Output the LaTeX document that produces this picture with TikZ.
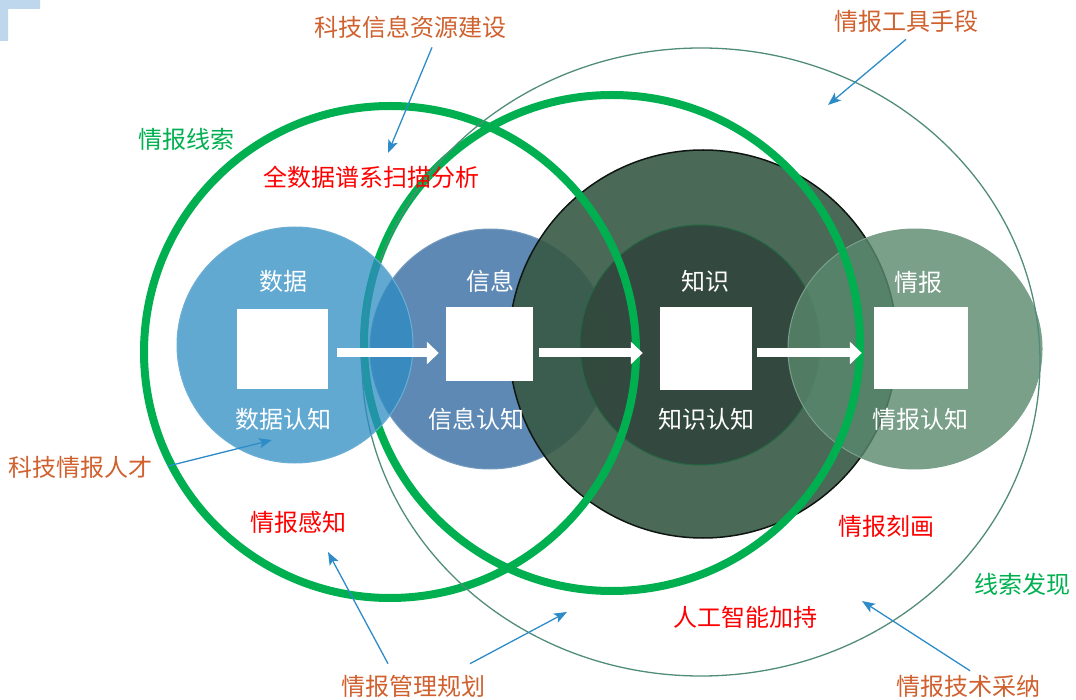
\documentclass[tikz,border=0pt]{standalone}
\usepackage{fontspec}
\setmainfont{Noto Sans CJK SC}
\usetikzlibrary{calc}
\usetikzlibrary{arrows.meta}
\definecolor{ringgreen}{RGB}{0,176,80}
\definecolor{tipblue}{RGB}{45,140,200}
\definecolor{notered}{RGB}{255,0,0}
\definecolor{noteorange}{RGB}{208,96,46}
\definecolor{datafill}{RGB}{45,140,195}
\definecolor{infofill}{RGB}{93,137,180}
\definecolor{knowfill}{RGB}{55,89,69}
\definecolor{knowcore}{RGB}{50,72,62}
\definecolor{intelfill}{RGB}{89,136,109}
\definecolor{orbitline}{RGB}{80,140,120}
\definecolor{cornerblue}{RGB}{190,215,236}
\tikzstyle{ring}=[draw=ringgreen,line width=8pt]
\tikzstyle{orbit}=[draw=orbitline,line width=1.3pt]
\tikzstyle{card}=[fill=white,inner sep=0pt]
\tikzstyle{flow}=[draw=white,line width=9pt,-{Triangle[length=12pt,width=22pt]}]
\tikzstyle{pointer}=[draw=tipblue,line width=1.3pt,-{Stealth[length=13pt,width=10pt,inset=3pt]}]
\tikzstyle{txt}=[inner sep=0pt,font=\fontsize{24}{24}\selectfont]

\begin{document}
\begin{tikzpicture}[x=1pt,y=-1pt] % pixel grid, y runs down
\useasboundingbox (0,0) rectangle (1076,700);
\fill[cornerblue] (0,0) -- (40,0) -- (40,9) -- (8,9) -- (8,41) -- (0,41) -- cycle;
% stage discs, back to front
\filldraw[fill=infofill,draw=infofill!85!white,line width=1pt] (490,349) circle[radius=120pt];
\filldraw[fill=knowfill,fill opacity=0.9,draw=black!75!knowfill,line width=1.5pt] (703,344) circle[radius=194pt];
\filldraw[fill=knowcore,fill opacity=0.95,draw=knowcore!70!ringgreen,line width=1pt] (700,345) circle[radius=120pt];
\filldraw[fill=intelfill,fill opacity=0.8,draw=intelfill!80!white,line width=1pt] (915,349) ellipse[x radius=127pt,y radius=120pt];
% clue rings and the tool orbit
\draw[ring] (390,352) circle[radius=246pt];
\draw[ring] (612,343) circle[radius=248pt];
\draw[orbit] (701,362) ellipse[x radius=339pt,y radius=314pt];
\filldraw[fill=datafill,fill opacity=0.75,draw=datafill!70!white,line width=1pt] (295,345) circle[radius=118pt]; % sits over the rings
% cards and flow
\node[card,minimum width=91pt,minimum height=80pt] (sq1) at (282.5,349) {};
\node[card,minimum width=87pt,minimum height=74pt] (sq2) at (489.5,344) {};
\node[card,minimum width=92pt,minimum height=83pt] (sq3) at (706,348.5) {};
\node[card,minimum width=94pt,minimum height=82pt] (sq4) at (921,348) {};
\coordinate (flowy) at (0,353);
\draw[flow,shorten <=9pt,shorten >=7pt] (sq1.east |- flowy) -- (sq2.west |- flowy);
\draw[flow,shorten <=6pt,shorten >=17pt] (sq2.east |- flowy) -- (sq3.west |- flowy);
\draw[flow,shorten <=5pt,shorten >=12pt] (sq3.east |- flowy) -- (sq4.west |- flowy);
\node[txt,text=white] (data) at (283,281) {数据};
\node[txt,text=white] (info) at (490,281) {信息};
\node[txt,text=white] (know) at (705,281) {知识};
\node[txt,text=white] (intel) at (918,282) {情报};
\node[txt,text=white] (datacog) at (283,419) {数据认知};
\node[txt,text=white] (infocog) at (476,419) {信息认知};
\node[txt,text=white] (knowcog) at (706,419) {知识认知};
\node[txt,text=white] (intelcog) at (920,419) {情报认知};
% notes
\node[txt,text=noteorange] (resource) at (410,27) {科技信息资源建设};
\node[txt,text=noteorange] (tools) at (906,21) {情报工具手段};
\node[txt,text=ringgreen] (clue) at (186,139) {情报线索};
\node[txt,text=notered] (scan) at (371,177) {全数据谱系扫描分析};
\node[txt,text=noteorange] (talent) at (81,467) {科技情报人才};
\node[txt,text=notered] (sense) at (298,522) {情报感知};
\node[txt,text=notered] (profile) at (886,526) {情报刻画};
\node[txt,text=ringgreen] (discover) at (1022,584) {线索发现};
\node[txt,text=notered] (aid) at (745,617) {人工智能加持};
\node[txt,text=noteorange] (plan) at (413,686) {情报管理规划};
\node[txt,text=noteorange] (adopt) at (968,686) {情报技术采纳};
% pointer tips
\coordinate (scan tip) at (388,153);
\coordinate (orbit tip) at (828,105);
\coordinate (data tip) at (272,440);
\coordinate (sense tip) at (328,552);
\coordinate (ring tip) at (567,612);
\coordinate (aid tip) at (862,601);
\draw[pointer] ([shift={(22,9)}]resource.south) -- (scan tip);
\draw[pointer] ([shift={(0,7)}]tools.south) -- (orbit tip);
\draw[pointer] ([shift={(15,-1)}]talent.east) -- (data tip);
\draw[pointer] ([shift={(-25,-11)}]plan.north) -- (sense tip);
\draw[pointer] ([shift={(57,-11)}]plan.north) -- (ring tip);
\draw[pointer] ([shift={(2,-4)}]adopt.north) -- (aid tip);
\end{tikzpicture}
\end{document}
